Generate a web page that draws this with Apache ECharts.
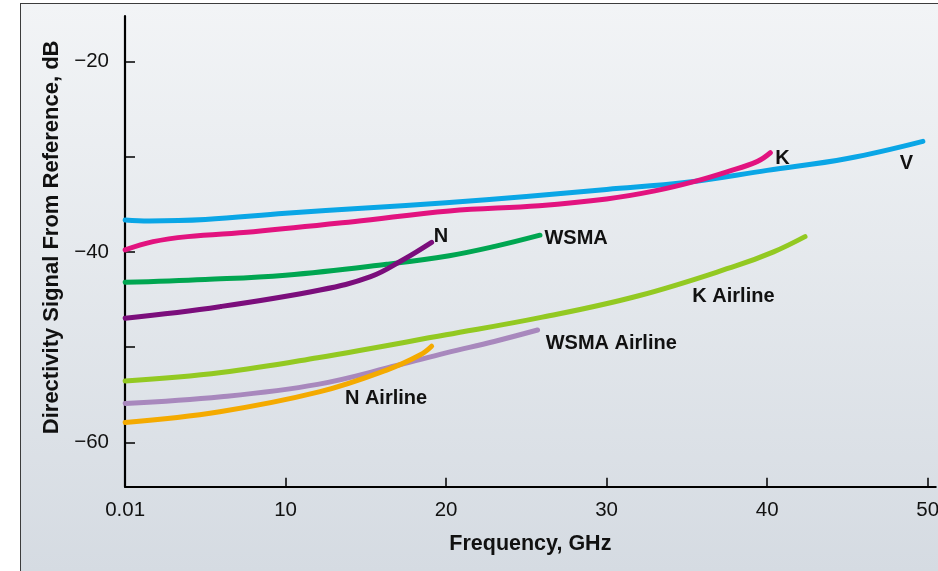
<!DOCTYPE html>
<html><head><meta charset="utf-8">
<script src="https://cdn.jsdelivr.net/npm/echarts@6/dist/echarts.min.js"></script>
<style>
html,body{margin:0;padding:0;background:#fff;width:938px;height:571px;overflow:hidden}
#frame{position:absolute;left:20px;top:3px;width:960px;height:620px;border:1.5px solid #3c3c3c;background:linear-gradient(#f2f4f6,#d5dbe2 568px)}
#chart{position:absolute;left:0;top:0;width:938px;height:571px}
</style></head><body><div id="frame"></div><div id="chart"></div>
<script>
// ---- data (frequency in GHz, directivity signal in dB) ----
const vFreq = [0.01, 1.5, 5, 10, 15, 20, 25, 30, 35, 40, 45, 49.7];
const vDb   = [-36.65, -36.75, -36.6, -35.95, -35.4, -34.85, -34.2, -33.45, -32.7, -31.45, -30.2, -28.4];

const kFreq = [0.01, 1.75, 3.9, 8, 14.2, 20.2, 25.8, 30, 33, 35.5, 37.5, 39.4, 40.2];
const kDb   = [-39.8, -38.93, -38.4, -37.88, -36.83, -35.7, -35.15, -34.45, -33.6, -32.6, -31.6, -30.5, -29.6];

const wsmaFreq = [0.01, 5, 10, 16.3, 20.2, 23.1, 25.85];
const wsmaDb   = [-43.2, -42.9, -42.45, -41.3, -40.4, -39.4, -38.25];

const nFreq = [0.01, 5.9, 12.15, 15.3, 17.3, 19.1];
const nDb   = [-46.97, -45.75, -44.0, -42.6, -40.85, -39.0];

const kAirFreq = [0.01, 6, 12, 20, 26, 32, 38, 40.4, 42.36];
const kAirDb   = [-53.55, -52.65, -51.1, -48.7, -46.85, -44.6, -41.5, -40.0, -38.4];

const wsmaAirFreq = [0.01, 6, 12, 17, 20, 23, 25.7];
const wsmaAirDb   = [-55.9, -55.2, -53.9, -51.9, -50.6, -49.4, -48.2];

const nAirFreq = [0.01, 5.9, 12.15, 16.3, 18.4, 19.1];
const nAirDb   = [-57.9, -56.77, -54.67, -52.4, -50.8, -49.9];

const xTickValues  = [10, 20, 30, 40, 50];
const xLabelValues = [0.01, 10, 20, 30, 40, 50];
const yTickValues  = [-60, -50, -40, -30, -20];
const yLabelValues = [-60, -40, -20];

// label anchors (data coordinates)
const seriesLabels = {
  'V': [48.68, -30.72],
  'K': [40.95, -30.15],
  'WSMA': [28.1, -38.58],
  'N': [19.68, -38.43],
  'K Airline': [37.9, -44.7],
  'WSMA Airline': [30.29, -49.66],
  'N Airline': [16.26, -55.36]
};

const defs = [
  ['V', vFreq, vDb, '#0aa6e6'],
  ['K', kFreq, kDb, '#e2137f'],
  ['WSMA', wsmaFreq, wsmaDb, '#00a651'],
  ['N', nFreq, nDb, '#7b0e7c'],
  ['K Airline', kAirFreq, kAirDb, '#93c922'],
  ['WSMA Airline', wsmaAirFreq, wsmaAirDb, '#a888bd'],
  ['N Airline', nAirFreq, nAirDb, '#f4aa00']
];

const FONT = '"Liberation Sans", Arial, Helvetica, sans-serif';

const series = defs.map(([name, fx, dy, color], i) => ({
  name, type: 'line', z: 2 + i,
  data: fx.map((f, j) => [f, dy[j]]),
  showSymbol: false, symbol: 'none', smooth: 0.4,
  lineStyle: { width: 5, color, cap: 'round', join: 'round' },
  itemStyle: { color },
  silent: true, animation: false,
  markPoint: {
    symbol: 'circle', symbolSize: 0, silent: true, animation: false,
    data: [{ coord: seriesLabels[name],
      label: { show: true, position: 'inside', formatter: name, color: '#111',
        fontFamily: FONT, fontWeight: 'bold', fontSize: 20 } }]
  }
}));

const chart = echarts.init(document.getElementById('chart'), null, { renderer: 'canvas' });
chart.setOption({
  backgroundColor: 'transparent',
  animation: false,
  grid: { left: 125, right: 2.3, top: 16, bottom: 84.3, outerBoundsMode: 'none', containLabel: false },
  xAxis: {
    type: 'value', min: 0, max: 50.5,
    axisLine: { show: true, lineStyle: { color: '#000', width: 2.2 } },
    axisTick: { show: true, inside: true, length: 9, customValues: xTickValues, lineStyle: { color: '#000', width: 1.5 } },
    axisLabel: { customValues: xLabelValues, formatter: v => String(v), color: '#111', fontFamily: FONT, fontSize: 20.5, margin: 13 },
    splitLine: { show: false },
    name: 'Frequency, GHz', nameLocation: 'middle', nameGap: 46,
    nameTextStyle: { color: '#111', fontFamily: FONT, fontWeight: 'bold', fontSize: 21.5 }
  },
  yAxis: {
    type: 'value', min: -64.64, max: -15.25,
    axisLine: { show: true, lineStyle: { color: '#000', width: 2.2 } },
    axisTick: { show: true, inside: true, length: 10, customValues: yTickValues, lineStyle: { color: '#000', width: 1.5 } },
    axisLabel: { customValues: yLabelValues, formatter: v => '\u2212' + Math.abs(v), color: '#111', fontFamily: FONT, fontSize: 20.5, margin: 16 },
    splitLine: { show: false },
    name: 'Directivity Signal From Reference, dB', nameLocation: 'middle', nameGap: 62,
    nameTextStyle: { color: '#111', fontFamily: FONT, fontWeight: 'bold', fontSize: 22, padding: [0, 0, 0, 28] }
  },
  series
});
</script>
</body></html>
